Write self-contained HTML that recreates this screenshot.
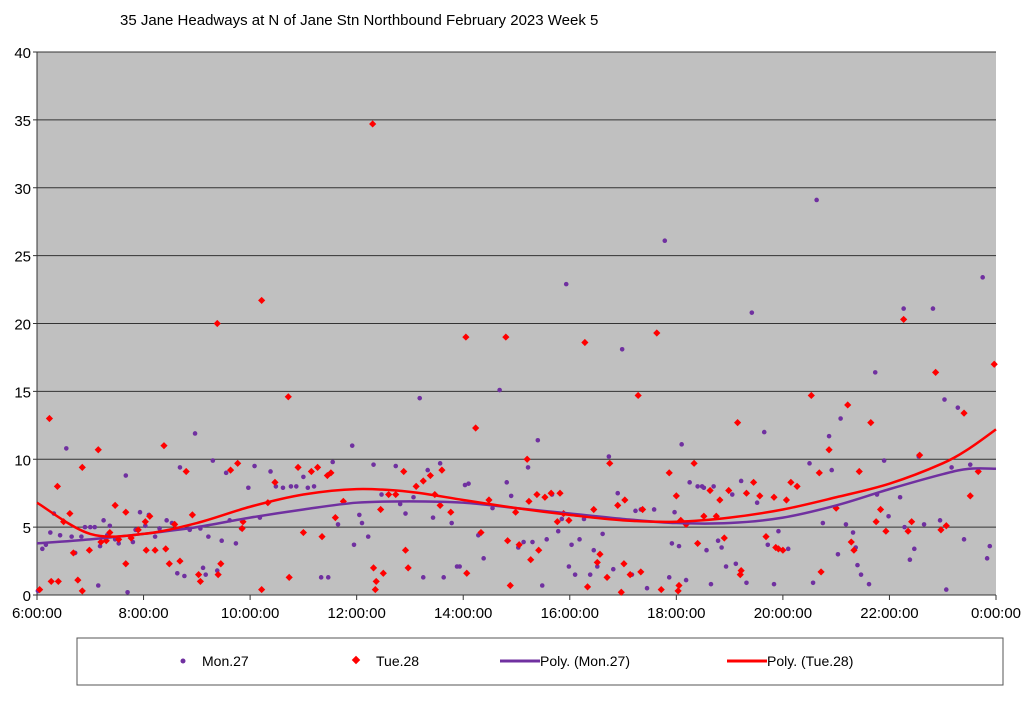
<!DOCTYPE html>
<html><head><meta charset="utf-8"><style>
body{margin:0;background:#fff;width:1024px;height:700px;overflow:hidden;font-family:"Liberation Sans",Arial,sans-serif}
</style></head><body>
<svg id="chart" width="1024" height="700" xmlns="http://www.w3.org/2000/svg">
<text x="120" y="25" font-size="15" font-family="Liberation Sans, sans-serif">35 Jane Headways at N of Jane Stn Northbound February 2023  Week 5</text>
<g id="plot"></g>
<g id="legend">
<rect x="77" y="638" width="926" height="47" fill="#fff" stroke="#555" stroke-width="1"/>
<circle cx="183" cy="661" r="2.5" fill="#7030a0"/>
<text x="202" y="666" font-size="14">Mon.27</text>
<rect x="353" y="657" width="6" height="6" fill="#f00" transform="rotate(45 356 660)"/>
<text x="376" y="666" font-size="14">Tue.28</text>
<line x1="500" y1="661" x2="540" y2="661" stroke="#7030a0" stroke-width="3"/>
<text x="540" y="666" font-size="14">Poly. (Mon.27)</text>
<line x1="727" y1="661" x2="767" y2="661" stroke="#f00" stroke-width="3"/>
<text x="767" y="666" font-size="14">Poly. (Tue.28)</text>
</g>
</svg>
<script>
// minutes since 6:00, headway minutes
const tueTimes=[3,14,16,23,24,30,37,41,46,51,51,59,69,72,78,82,88,92,100,100,106,114,122,123,127,133,143,145,149,155,161,168,175,182,184,203,204,207,218,226,231,232,253,253,260,268,283,284,294,300,309,316,321,327,331,336,345,378,379,381,382,387,390,396,404,413,415,418,427,435,443,448,454,456,466,483,484,494,500,509,528,530,533,539,543,552,554,556,563,565,572,579,586,589,593,599,617,620,627,631,634,642,645,654,658,661,662,668,677,680,682,698,703,712,720,722,723,725,731,740,744,751,758,765,769,774,779,789,792,793,799,807,814,821,830,832,835,840,844,849,856,872,881,883,892,900,913,917,920,926,939,945,950,956,976,981,985,994,1012,1018,1024,1044,1051,1060,1078];
const tueValues=[0.4,13,1,8,1,5.4,6,3.1,1.1,0.3,9.4,3.3,10.7,3.9,4,4.6,6.6,4.1,2.3,6.1,4.2,4.8,5.4,3.3,5.8,3.3,11,3.4,2.3,5.2,2.5,9.1,5.9,1.5,1,20,1.5,2.3,9.2,9.7,4.9,5.4,21.7,0.4,6.8,8.3,14.6,1.3,9.4,4.6,9.1,9.4,4.3,8.8,9,5.7,6.9,34.7,2,0.4,1,6.3,1.6,7.4,7.4,9.1,3.3,2,8,8.4,8.8,7.4,6.6,9.2,6.1,19,1.6,12.3,4.6,7,19,4,0.7,6.1,3.7,10,6.9,2.6,7.4,3.3,7.2,7.5,5.4,7.5,6,5.5,18.6,0.6,6.3,2.4,3,1.3,9.7,6.6,0.2,2.3,7,1.5,14.7,1.7,6.3,19.3,0.4,9,7.3,0.3,0.7,5.5,5.2,9.7,3.8,5.8,7.7,5.8,7,4.2,7.7,12.7,1.5,1.8,7.5,8.3,7.3,4.3,7.2,3.5,3.4,3.3,7,8.3,8,14.7,9,1.7,10.7,6.4,14,3.9,3.3,9.1,12.7,5.4,6.3,4.7,20.3,4.7,5.4,10.3,16.4,4.8,5.1,13.4,7.3,9.1,17];
const monTimes=[1,6,10,15,19,26,33,39,43,50,54,60,65,69,71,75,79,82,88,92,100,102,108,111,116,122,126,133,138,146,152,158,161,166,172,178,184,187,190,193,198,203,208,213,217,224,230,238,245,251,263,269,277,286,292,300,305,312,320,328,333,339,355,357,363,366,373,379,388,396,404,409,415,424,431,435,440,446,454,458,467,473,476,482,486,497,503,513,521,529,534,542,548,553,558,564,569,574,580,587,591,596,599,602,606,611,616,623,627,631,637,644,649,654,659,670,674,680,687,695,707,712,715,718,723,726,731,735,744,749,751,754,759,762,767,771,776,783,787,793,799,805,811,819,823,830,835,840,846,856,870,874,878,885,892,895,902,905,911,919,922,924,928,937,944,946,954,959,972,976,977,983,988,993,999,1009,1017,1022,1024,1030,1037,1044,1051,1065,1070,1073];
const monValues=[0.3,3.4,3.7,4.6,6,4.4,10.8,4.3,3.1,4.3,5,5,5,0.7,3.6,5.5,4.4,5.1,4.1,3.8,8.8,0.2,3.9,4.8,6.1,5.1,5.9,4.3,4.9,5.5,5.3,1.6,9.4,1.4,4.8,11.9,4.9,2,1.5,4.3,9.9,1.8,4,9,5.5,3.8,4.9,7.9,9.5,5.7,9.1,8,7.9,8,8,8.7,7.9,8,1.3,1.3,9.8,5.2,11,3.7,5.9,5.3,4.3,9.6,7.4,7.4,9.5,6.7,6,7.2,14.5,1.3,9.2,5.7,9.7,1.3,5.3,2.1,2.1,8.1,8.2,4.4,2.7,6.4,15.1,8.3,7.3,3.5,3.9,9.4,3.9,11.4,0.7,4.1,7.4,4.7,5.6,22.9,2.1,3.7,1.5,4.1,5.6,1.5,3.3,2.1,4.5,10.2,1.9,7.5,18.1,1.5,6.2,6.3,0.5,6.3,26.1,1.3,3.8,6.1,3.6,11.1,1.1,8.3,8,8,7.9,3.3,0.8,8,4,3.5,2.1,7.4,2.3,8.4,0.9,20.8,6.8,12,3.7,0.8,4.7,3.3,3.4,8,9.7,0.9,29.1,5.3,11.7,9.2,3,13,5.2,4.6,3.5,2.2,1.5,0.8,16.4,7.4,9.9,5.8,7.2,21.1,5,2.6,3.4,10.2,5.2,21.1,5.5,14.4,0.4,9.4,13.8,4.1,9.6,23.4,2.7,3.6];
const trendHours=[0,1,2,3,4,5,6,7,8,9,10,11,12,13,14,15,16,17,17.5,18];
const monTrend=[3.8,4.1,4.5,5.0,5.7,6.3,6.8,6.9,6.8,6.4,6.0,5.6,5.3,5.3,5.7,6.6,7.8,8.9,9.3,9.3];
const tueTrend=[6.8,4.5,4.5,5.3,6.5,7.4,7.8,7.6,7.0,6.4,5.9,5.5,5.4,5.7,6.3,7.2,8.2,9.7,10.8,12.2];
const yTicks=[0,5,10,15,20,25,30,35,40];
const xTickLabels=["6:00:00","8:00:00","10:00:00","12:00:00","14:00:00","16:00:00","18:00:00","20:00:00","22:00:00","0:00:00"];

const L=37,R=996,T=52,B=595,NS="http://www.w3.org/2000/svg";
const xs=m=>L+(m/1080)*(R-L), ys=v=>B-(v/40)*(B-T);
const g=document.getElementById('plot');
function mk(tag,attrs,parent){const e=document.createElementNS(NS,tag);for(const k in attrs)e.setAttribute(k,attrs[k]);(parent||g).appendChild(e);return e;}
let e=mk('rect',{x:L,y:T,width:R-L,height:B-T,fill:'#c0c0c0'});


yTicks.forEach(v=>{
  const ln=mk('line',{x1:L-4,x2:v>0?R:L,y1:ys(v),y2:ys(v),stroke:'#333','stroke-width':1});
  
  
  const t=mk('text',{x:L-6,y:ys(v)+6,'text-anchor':'end','font-size':15});
  t.textContent=v;
  
  
});
e=mk('line',{x1:L,x2:L,y1:T,y2:B,stroke:'#333'});


e=mk('line',{x1:L,x2:R,y1:B,y2:B,stroke:'#333'});


xTickLabels.forEach((s,i)=>{
  const x=xs(i*120);
  const ln=mk('line',{x1:x,x2:x,y1:B,y2:B+5,stroke:'#333'});
  
  
  const t=mk('text',{x:x,y:B+23,'text-anchor':'middle','font-size':15});
  t.textContent=s;
  
  
});
monTimes.forEach((m,i)=>{
  const c=mk('circle',{cx:xs(m),cy:ys(monValues[i]),r:2.3,fill:'#7030a0'});
  
  
});
tueTimes.forEach((m,i)=>{
  const x=xs(m),y=ys(tueValues[i]);
  const p=mk('polygon',{points:`${x},${y-3.6} ${x+3.6},${y} ${x},${y+3.6} ${x-3.6},${y}`,fill:'#f00'});
  
  
});
function spline(vals){
  const pts=trendHours.map((h,i)=>[xs(h*60),ys(vals[i])]);
  let d=`M${pts[0][0]},${pts[0][1]}`;
  for(let i=0;i<pts.length-1;i++){
    const p0=pts[Math.max(0,i-1)],p1=pts[i],p2=pts[i+1],p3=pts[Math.min(pts.length-1,i+2)];
    const c1=[p1[0]+(p2[0]-p0[0])/6,p1[1]+(p2[1]-p0[1])/6],c2=[p2[0]-(p3[0]-p1[0])/6,p2[1]-(p3[1]-p1[1])/6];
    d+=` C${c1[0]},${c1[1]} ${c2[0]},${c2[1]} ${p2[0]},${p2[1]}`;
  }
  return d;
}
e=mk('path',{d:spline(monTrend),fill:'none',stroke:'#7030a0','stroke-width':2.5});


e=mk('path',{d:spline(tueTrend),fill:'none',stroke:'#f00','stroke-width':2.5});


</script>
</body></html>
